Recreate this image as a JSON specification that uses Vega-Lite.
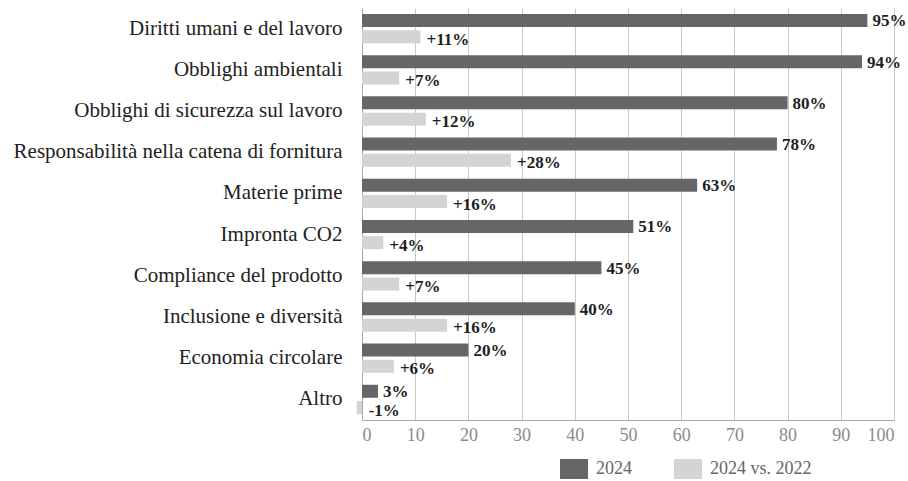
{
  "$schema": "https://vega.github.io/schema/vega-lite/v6.json",
  "width": 532,
  "height": 412,
  "autosize": {"type": "none"},
  "padding": {"left": 362, "top": 8, "right": 14, "bottom": 61},
  "background": "white",
  "config": {"view": {"stroke": null}, "font": "Liberation Serif"},
  "data": {
    "values": [
      {"cat": "Diritti umani e del lavoro", "series": "2024", "value": 95, "label": "95%"},
      {"cat": "Diritti umani e del lavoro", "series": "2024 vs. 2022", "value": 11, "label": "+11%"},
      {"cat": "Obblighi ambientali", "series": "2024", "value": 94, "label": "94%"},
      {"cat": "Obblighi ambientali", "series": "2024 vs. 2022", "value": 7, "label": "+7%"},
      {"cat": "Obblighi  di sicurezza sul lavoro", "series": "2024", "value": 80, "label": "80%"},
      {"cat": "Obblighi  di sicurezza sul lavoro", "series": "2024 vs. 2022", "value": 12, "label": "+12%"},
      {"cat": "Responsabilità nella catena di fornitura", "series": "2024", "value": 78, "label": "78%"},
      {"cat": "Responsabilità nella catena di fornitura", "series": "2024 vs. 2022", "value": 28, "label": "+28%"},
      {"cat": "Materie prime", "series": "2024", "value": 63, "label": "63%"},
      {"cat": "Materie prime", "series": "2024 vs. 2022", "value": 16, "label": "+16%"},
      {"cat": "Impronta CO2", "series": "2024", "value": 51, "label": "51%"},
      {"cat": "Impronta CO2", "series": "2024 vs. 2022", "value": 4, "label": "+4%"},
      {"cat": "Compliance del prodotto", "series": "2024", "value": 45, "label": "45%"},
      {"cat": "Compliance del prodotto", "series": "2024 vs. 2022", "value": 7, "label": "+7%"},
      {"cat": "Inclusione e diversità", "series": "2024", "value": 40, "label": "40%"},
      {"cat": "Inclusione e diversità", "series": "2024 vs. 2022", "value": 16, "label": "+16%"},
      {"cat": "Economia circolare", "series": "2024", "value": 20, "label": "20%"},
      {"cat": "Economia circolare", "series": "2024 vs. 2022", "value": 6, "label": "+6%"},
      {"cat": "Altro", "series": "2024", "value": 3, "label": "3%"},
      {"cat": "Altro", "series": "2024 vs. 2022", "value": -1, "label": "-1%"}
    ]
  },
  "encoding": {
    "y": {
      "field": "cat",
      "type": "nominal",
      "sort": null,
      "scale": {"paddingInner": 0.29, "paddingOuter": 0.145},
      "axis": {
        "title": null,
        "ticks": false,
        "domain": true,
        "domainColor": "#a8a8a8",
        "labelFont": "Liberation Serif",
        "labelFontSize": 21,
        "labelColor": "#222222",
        "labelPadding": 20,
        "labelLimit": 400
      }
    },
    "yOffset": {
      "field": "series",
      "type": "nominal",
      "sort": ["2024", "2024 vs. 2022"],
      "scale": {"paddingInner": 0.2, "paddingOuter": 0}
    },
    "x": {
      "field": "value",
      "type": "quantitative",
      "scale": {"domain": [0, 100], "nice": false},
      "axis": {
        "title": null,
        "values": [0, 10, 20, 30, 40, 50, 60, 70, 80, 90, 100],
        "grid": true,
        "gridColor": "#c8c8c8",
        "ticks": false,
        "domain": true,
        "domainColor": "#a8a8a8",
        "labelFont": "Liberation Serif",
        "labelFontSize": 18,
        "labelColor": "#8a8a8a",
        "labelPadding": 6
      }
    }
  },
  "layer": [
    {
      "mark": {"type": "bar"},
      "encoding": {
        "color": {
          "field": "series",
          "type": "nominal",
          "scale": {"domain": ["2024", "2024 vs. 2022"], "range": ["#666669", "#d4d4d5"]},
          "legend": {
            "title": null,
            "orient": "none",
            "legendX": 202,
            "legendY": 451,
            "direction": "horizontal",
            "padding": 0,
            "symbolType": "M-1.4,-1H1.4V1H-1.4Z",
            "symbolSize": 400,
            "symbolStrokeWidth": 0,
            "symbolOpacity": 1,
            "labelOffset": 12,
            "columnPadding": 42,
            "labelFont": "Liberation Serif",
            "labelFontSize": 18,
            "labelColor": "#666666"
          }
        }
      }
    },
    {
      "transform": [{"filter": "datum.series == '2024'"}],
      "mark": {
        "type": "text",
        "align": "left",
        "baseline": "middle",
        "dx": 5,
        "dy": 1,
        "font": "Liberation Serif",
        "fontWeight": "bold",
        "fontSize": 17,
        "color": "#1e1e1e"
      },
      "encoding": {
        "text": {"field": "label"}
      }
    },
    {
      "transform": [{"filter": "datum.series != '2024' && datum.value >= 0"}],
      "mark": {
        "type": "text",
        "align": "left",
        "baseline": "middle",
        "dx": 6,
        "dy": 3,
        "font": "Liberation Serif",
        "fontWeight": "bold",
        "fontSize": 17,
        "color": "#1e1e1e"
      },
      "encoding": {
        "text": {"field": "label"}
      }
    },
    {
      "transform": [{"filter": "datum.series != '2024' && datum.value < 0"}],
      "mark": {
        "type": "text",
        "align": "left",
        "baseline": "middle",
        "dx": 12,
        "dy": 3,
        "font": "Liberation Serif",
        "fontWeight": "bold",
        "fontSize": 17,
        "color": "#1e1e1e"
      },
      "encoding": {
        "text": {"field": "label"}
      }
    }
  ]
}
